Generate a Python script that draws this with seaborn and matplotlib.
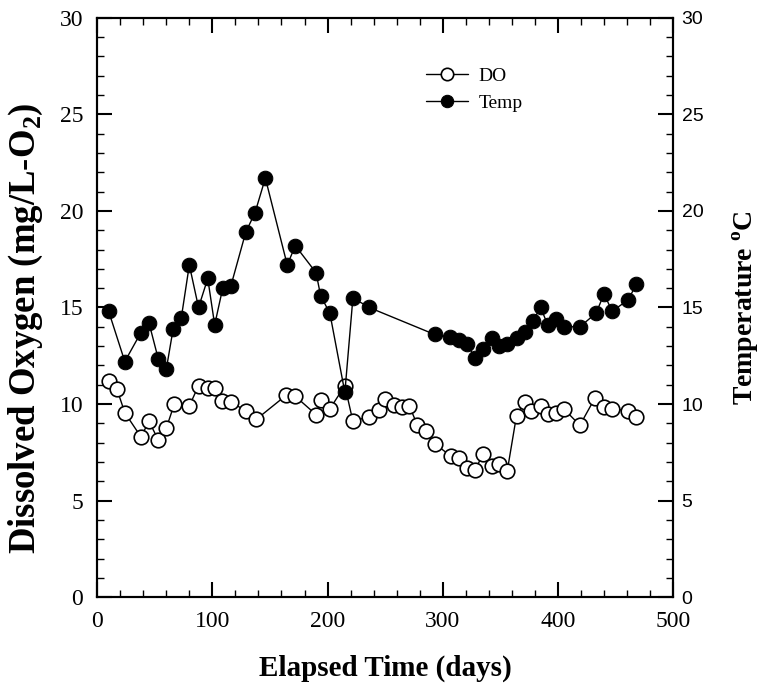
import matplotlib
matplotlib.use("Agg")
import matplotlib.pyplot as plt
import seaborn as sns
from matplotlib.ticker import MultipleLocator

# -------------------------
# Data
# -------------------------
do_days = [10, 17, 24, 38, 45, 53, 60, 67, 80, 88, 96, 102, 108, 116, 129, 138,
           164, 172, 190, 194, 202, 215, 222, 236, 245, 250, 258, 265, 271, 278,
           285, 293, 307, 314, 321, 328, 335, 343, 349, 356, 364, 371, 377, 385,
           391, 398, 405, 419, 432, 440, 447, 461, 468]
do_vals = [11.2, 10.8, 9.55, 8.3, 9.1, 8.15, 8.75, 10.0, 9.9, 10.95, 10.85, 10.85,
           10.15, 10.1, 9.65, 9.2, 10.45, 10.4, 9.45, 10.2, 9.75, 10.95, 9.1, 9.35,
           9.7, 10.25, 9.95, 9.85, 9.9, 8.9, 8.6, 7.95, 7.3, 7.2, 6.7, 6.6, 7.4, 6.8,
           6.9, 6.55, 9.4, 10.1, 9.65, 9.9, 9.5, 9.55, 9.75, 8.9, 10.3, 9.85, 9.75,
           9.65, 9.35]

temp_days = [10, 24, 38, 45, 53, 60, 66, 73, 80, 88, 96, 102, 109, 116, 129, 137,
             146, 165, 172, 190, 194, 202, 215, 222, 236, 293, 306, 314, 321, 328,
             335, 343, 349, 356, 364, 371, 378, 385, 391, 398, 405, 419, 433, 440,
             447, 461, 468]
temp_vals = [14.8, 12.2, 13.7, 14.2, 12.35, 11.8, 13.9, 14.45, 17.2, 15.0, 16.5,
             14.1, 16.0, 16.1, 18.9, 19.9, 21.7, 17.2, 18.2, 16.8, 15.6, 14.7, 10.6,
             15.5, 15.0, 13.6, 13.45, 13.3, 13.1, 12.4, 12.85, 13.4, 13.0, 13.1,
             13.4, 13.75, 14.3, 15.0, 14.1, 14.4, 14.0, 14.0, 14.7, 15.7, 14.8,
             15.4, 16.2]

x_ticks = [0, 100, 200, 300, 400, 500]
y_ticks = [0, 5, 10, 15, 20, 25, 30]

# -------------------------
# Style
# -------------------------
sns.set_style("ticks")
plt.rcParams["font.family"] = ["Liberation Serif", "DejaVu Serif"]
plt.rcParams["mathtext.fontset"] = "custom"
plt.rcParams["mathtext.rm"] = "Liberation Serif"
plt.rcParams["mathtext.bf"] = "Liberation Serif:bold"
plt.rcParams["axes.linewidth"] = 1.5
for key in ["axes.edgecolor", "text.color", "axes.labelcolor",
            "xtick.color", "ytick.color"]:
    plt.rcParams[key] = "black"

fig, ax = plt.subplots(figsize=(7.65, 6.84), dpi=100)
fig.subplots_adjust(left=0.127, right=0.88, top=0.974, bottom=0.127)
ax2 = ax.twinx()

sns.lineplot(x=do_days, y=do_vals, ax=ax, color="black", lw=1,
             marker="o", markersize=10.5, markerfacecolor="white",
             markeredgecolor="black", markeredgewidth=1.2, label="DO", legend=False)
sns.lineplot(x=temp_days, y=temp_vals, ax=ax2, color="black", lw=1,
             marker="o", markersize=10.5, markerfacecolor="black",
             markeredgecolor="black", label="Temp", legend=False)

ax.set_xlim(0, 500)
ax.set_ylim(0, 30)
ax2.set_ylim(0, 30)
ax.set_xticks(x_ticks)
ax.set_yticks(y_ticks)
ax2.set_yticks(y_ticks)
ax.xaxis.set_minor_locator(MultipleLocator(20))
ax.yaxis.set_minor_locator(MultipleLocator(1))
ax2.yaxis.set_minor_locator(MultipleLocator(1))

ax.tick_params(axis="both", which="major", direction="in", length=11, width=1.5,
               labelsize=17, top=True, right=False, pad=10)
ax.tick_params(axis="both", which="minor", direction="in", length=5, width=1,
               top=True, right=False)
ax2.tick_params(axis="y", which="major", direction="in", length=11, width=1.5,
                labelsize=14, pad=6, labelfontfamily="Liberation Sans")
ax2.tick_params(axis="y", which="minor", direction="in", length=5, width=1)

ax.set_xlabel("Elapsed Time (days)", fontsize=21, fontweight="bold", labelpad=16)
ax.set_ylabel(r"Dissolved Oxygen (mg/L-O$_\mathbf{2}$)", fontsize=26.5,
              fontweight="bold")
ax.yaxis.set_label_coords(-0.09, 0.465)
ax2.set_ylabel(r"Temperature $^\mathbf{o}$C", fontsize=20, fontweight="bold",
               labelpad=20)

h1, l1 = ax.get_legend_handles_labels()
h2, l2 = ax2.get_legend_handles_labels()
ax2.legend(h1 + h2, l1 + l2, loc="upper left", bbox_to_anchor=(0.54, 0.945),
           frameon=False, fontsize=14, handlelength=2.2, handletextpad=0.5,
           labelspacing=0.5, markerscale=0.85)

fig.savefig("out.png", dpi=100)
